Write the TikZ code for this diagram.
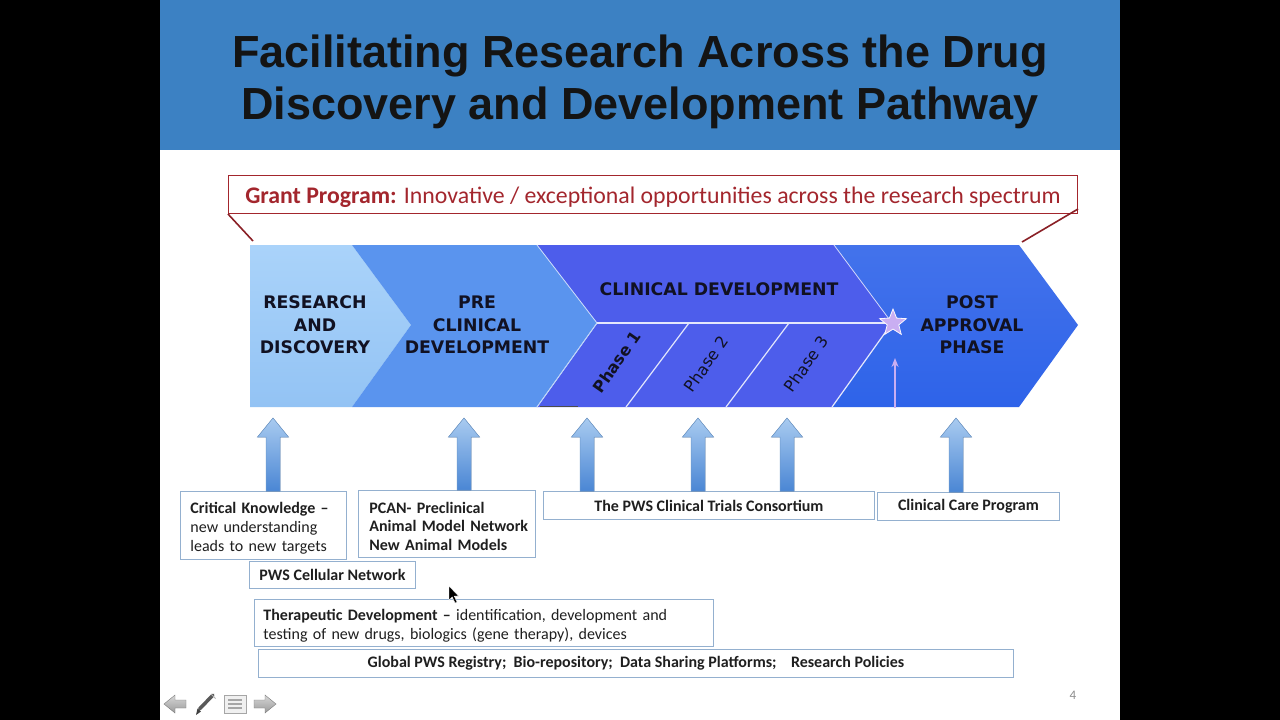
\documentclass[tikz,border=0pt]{standalone}
\usepackage{fontspec}
\setmainfont{Carlito}
\newfontfamily\titlefont{Liberation Sans}
\newfontfamily\chevfont{DejaVu Sans}
\usetikzlibrary{shapes.geometric,arrows.meta,calc}
\definecolor{hdr}{HTML}{3C81C3}
\definecolor{grantred}{HTML}{A3262D}
\definecolor{chevAt}{HTML}{AAD3FA}
\definecolor{chevAb}{HTML}{93C3F4}
\definecolor{chevB}{HTML}{5A94EE}
\definecolor{chevC}{HTML}{4D5DEB}
\definecolor{chevD}{HTML}{2E63E9}
\definecolor{boxline}{HTML}{94B0CF}
\definecolor{lilac}{HTML}{C9AEF2}
\definecolor{arrtop}{HTML}{A9CBF0}
\definecolor{arrbot}{HTML}{4A86D4}
\definecolor{arrline}{HTML}{6F9BCE}
\definecolor{chevtext}{HTML}{111122}
\definecolor{icongray}{HTML}{9A9A9A}
\tikzset{
  titlest/.style={font=\titlefont\bfseries\fontsize{45}{50}\selectfont, text=black!92, inner sep=0},
  chevst/.style={font=\chevfont\bfseries\fontsize{17.3}{22.5}\selectfont, text=chevtext, align=center, inner sep=0},
  phasest/.style={font=\chevfont\fontsize{16}{18}\selectfont, text=chevtext, rotate=55, inner sep=0},
  boxst/.style={draw=boxline, line width=0.9, anchor=north west, inner sep=0, font=\fontsize{16}{19}\selectfont, text=black!88},
  arrowfill/.style={top color=arrtop, bottom color=arrbot, draw=arrline, line width=0.5},
  sepline/.style={white!85!chevC, line width=1.2},
}
\newcommand{\uparr}[2]{%
  \path (#1) coordinate (s) (#2) coordinate (e);
  \filldraw[arrowfill] ($(s)+(-7,0)$) -- ($(e)+(-7,19)$) -- ($(e)+(-15.5,19)$) -- (e) -- ($(e)+(15.5,19)$) -- ($(e)+(7,19)$) -- ($(s)+(7,0)$) -- cycle;}
\begin{document}
\begin{tikzpicture}[x=1pt,y=-1pt]
\useasboundingbox (0,0) rectangle (1280,720);
\fill[black] (0,0) rectangle (1280,720);
\fill[white] (160,0) rectangle (1120,720);
\fill[hdr] (160,0) rectangle (1120,150);
\node[titlest] (t1) at (640,56) {Facilitating Research Across the Drug};
\node[titlest] (t2) at (640,108) {Discovery and Development Pathway};

% grant program
\node[draw=grantred, line width=1, minimum width=849, minimum height=38, anchor=north west, inner sep=0] (grant) at (228,175) {};
\node[font=\fontsize{23.8}{26}\selectfont, text=grantred, inner sep=0] (granttext) at ($(grant.center)+(0,3)$)
      {\textbf{Grant Program:} Innovative / exceptional opportunities across the research spectrum};
\coordinate (gl) at (253,241);
\coordinate (gr) at (1022,242);
\draw[grantred!85!black, line width=1.6] (grant.south west) -- (gl);
\draw[grantred!85!black, line width=1.6] ([yshift=5pt]grant.south east) -- (gr);

% chevrons
\shade[top color=chevAt, bottom color=chevAb] (250,245) -- (352,245) -- (411,325) -- (352,407) -- (250,407) -- cycle;
\fill[chevB] (352,245) -- (537,245) -- (597,323) -- (537,407) -- (352,407) -- (411,325) -- cycle;
\fill[chevC] (537,245) -- (834,245) -- (892,323) -- (832,407) -- (537,407) -- (597,323) -- cycle;
\shade[top color=chevD!90!white, bottom color=chevD] (834,245) -- (1019,245) -- (1078,325) -- (1019,407) -- (832,407) -- (892,323) -- cycle;
% separators
\draw[white!70!chevB, line width=0.8] (537,245) -- (597,323) -- (537,407);
\draw[white!75!chevC, line width=0.8] (834,245) -- (892,323);
\draw[sepline] (597,323) -- (892,323);
\draw[sepline] (689,323) -- (626,407);
\draw[sepline] (789,323) -- (726,407);
\draw[sepline] (892,323) -- (832,407);
\draw[white!60!chevB, line width=0.8] (597,323) -- (537,407);
\draw[black!70, line width=1.2] (540,406.5) -- (578,406.5);

\node[chevst] (rd) at (315,325) {RESEARCH\\AND\\DISCOVERY};
\node[chevst] (pc) at (477,325) {PRE\\CLINICAL\\DEVELOPMENT};
\node[chevst] (cd) at (719,289) {CLINICAL DEVELOPMENT};
\node[chevst] (pa) at (972,325) {POST\\APPROVAL\\PHASE};
\node[phasest, font=\chevfont\bfseries\fontsize{16}{18}\selectfont] (p1) at (617,362) {Phase 1};
\node[phasest] (p2) at (706,364) {Phase 2};
\node[phasest] (p3) at (806,364) {Phase 3};

\node[star, star points=5, star point ratio=2.3, fill=lilac, draw=white!90!lilac, line width=0.8, minimum size=28, inner sep=0] (star) at (893,323) {};
\coordinate (lb) at (895,408);
\coordinate (lt) at (895,358);
\draw[lilac, line width=1.6, -{Stealth[length=9,width=7]}] (lb) -- (lt);

% boxes
\node[boxst, minimum width=166, minimum height=68] (ck0) at (180,491) {};
\node[boxst, draw=none, anchor=west, text width=160, align=left] (cktext) at (190,528) {\textbf{Critical Knowledge –}\\new understanding\\leads to new targets};
\node[boxst, minimum width=177, minimum height=67] (pcan) at (358,490) {};
\node[boxst, draw=none, anchor=west, text width=170, align=left, font=\bfseries\fontsize{16}{18.5}\selectfont] (pcantext) at (369,526) {PCAN- Preclinical\\Animal Model Network\\New Animal Models};
\node[boxst, minimum width=331, minimum height=28, font=\bfseries\fontsize{16}{19}\selectfont] (trials) at (543,491) {The PWS Clinical Trials Consortium};
\node[boxst, minimum width=182, minimum height=28, font=\bfseries\fontsize{16}{19}\selectfont] (care) at (877,492) {Clinical Care Program};
\node[boxst, minimum width=166, minimum height=27, fill=white, font=\bfseries\fontsize{16}{19}\selectfont] (cell) at (249,561) {PWS Cellular Network};
\node[boxst, minimum width=459, minimum height=47] (ther) at (254,599) {};
\node[boxst, draw=none, anchor=west, text width=450, align=left] (thertext) at (263,625.5) {\textbf{Therapeutic Development –} identification, development and\\testing of new drugs, biologics (gene therapy), devices};
\node[boxst, minimum width=755, minimum height=28, fill=white, font=\bfseries\fontsize{16}{19}\selectfont] (glob) at (258,649) {Global PWS Registry;\ \ Bio-repository;\ \ Data Sharing Platforms;\ \ \ \ Research Policies};

% block arrows
\coordinate (a1) at (273,418);
\coordinate (a2) at (464,418);
\coordinate (a3) at (587,418);
\coordinate (a4) at (698,418);
\coordinate (a5) at (787,418);
\coordinate (a6) at (956,418);
\uparr{a1 |- ck0.north}{a1}
\uparr{a2 |- pcan.north}{a2}
\uparr{a3 |- trials.north}{a3}
\uparr{a4 |- trials.north}{a4}
\uparr{a5 |- trials.north}{a5}
\uparr{a6 |- care.north}{a6}

% cursor
\filldraw[black, draw=white, line width=0.4] (449,586) -- (449,600) -- (452.2,597) -- (455,603) -- (457,602) -- (454.3,596.2) -- (458.5,596) -- cycle;

% page number
\node[font=\fontsize{13}{15}\selectfont, text=black!45] (pg) at (1073,695) {4};

% navigation icons
\shade[top color=icongray!40, bottom color=icongray, draw=icongray!80!black, line width=0.4] (164,704) -- (175,695) -- (175,700) -- (186,700) -- (186,708) -- (175,708) -- (175,713) -- cycle;
\shade[top color=icongray!40, bottom color=icongray, draw=icongray!80!black, line width=0.4] (276,704) -- (265,695) -- (265,700) -- (254,700) -- (254,708) -- (265,708) -- (265,713) -- cycle;
\draw[black!65, line width=3.5, line cap=round] (199.5,709) -- (213,695);
\fill[black!75] (196,715) -- (197.5,708.5) -- (201,711.5) -- cycle;
\draw[black!30, line width=1] (211,694) -- (215.5,698.5);
\filldraw[fill=black!6, draw=black!35, line width=0.6] (224,695) rectangle (246,713);
\draw[black!35, line width=1.2] (228,700) -- (242,700) (228,704) -- (242,704) (228,708) -- (242,708);
\end{tikzpicture}
\end{document}
